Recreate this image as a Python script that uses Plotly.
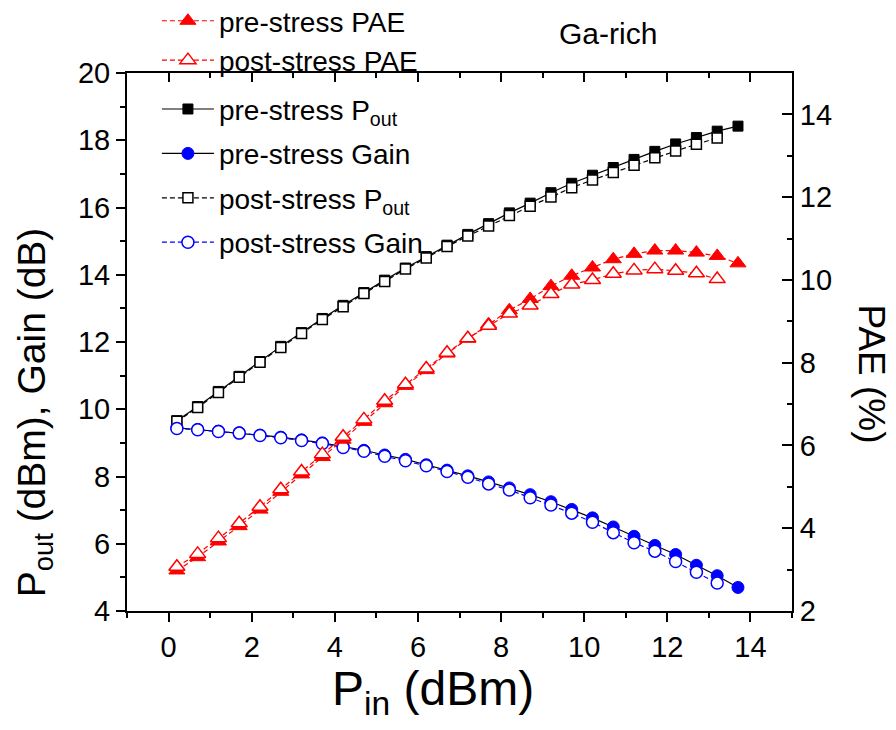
import plotly.graph_objects as go

# ---------------- data ----------------
pin_pre = [0.2, 0.7, 1.2, 1.7, 2.2, 2.7, 3.2, 3.7, 4.2, 4.7, 5.2, 5.7, 6.2, 6.7,
           7.2, 7.7, 8.2, 8.7, 9.2, 9.7, 10.2, 10.7, 11.2, 11.7, 12.2, 12.7, 13.2, 13.7]
pin_post = pin_pre[:-1]

pout_pre = [9.66, 10.08, 10.53, 10.98, 11.42, 11.87, 12.28, 12.70, 13.09, 13.47, 13.84,
            14.20, 14.54, 14.88, 15.20, 15.52, 15.84, 16.13, 16.44, 16.72, 16.96, 17.19,
            17.43, 17.67, 17.89, 18.08, 18.27, 18.42]
pout_post = [9.64, 10.05, 10.50, 10.95, 11.40, 11.84, 12.25, 12.67, 13.05, 13.44, 13.80,
             14.17, 14.50, 14.84, 15.15, 15.45, 15.76, 16.04, 16.31, 16.59, 16.82, 17.04,
             17.26, 17.48, 17.68, 17.88, 18.07]

gain_pre = [9.45, 9.40, 9.35, 9.30, 9.23, 9.17, 9.09, 9.00, 8.89, 8.78, 8.64, 8.51, 8.35,
            8.19, 8.02, 7.84, 7.66, 7.46, 7.25, 7.02, 6.77, 6.50, 6.22, 5.95, 5.68, 5.36,
            5.05, 4.70]
gain_post = [9.43, 9.39, 9.34, 9.29, 9.22, 9.15, 9.07, 8.98, 8.86, 8.75, 8.60, 8.47, 8.32,
             8.15, 7.98, 7.78, 7.60, 7.37, 7.15, 6.91, 6.64, 6.33, 6.03, 5.78, 5.47, 5.15,
             4.83]

pae_pre = [2.98, 3.30, 3.68, 4.05, 4.45, 4.88, 5.30, 5.72, 6.14, 6.57, 7.02, 7.44, 7.82,
           8.22, 8.58, 8.93, 9.27, 9.54, 9.85, 10.10, 10.30, 10.50, 10.63, 10.71, 10.71,
           10.66, 10.58, 10.40]
pae_post = [3.07, 3.38, 3.76, 4.12, 4.52, 4.94, 5.37, 5.79, 6.21, 6.63, 7.08, 7.48, 7.86,
            8.24, 8.59, 8.89, 9.19, 9.38, 9.66, 9.89, 10.00, 10.15, 10.23, 10.26, 10.22,
            10.16, 10.02]

x_ticks = [0, 2, 4, 6, 8, 10, 12, 14]
yl_ticks = [4, 6, 8, 10, 12, 14, 16, 18, 20]
yr_ticks = [2, 4, 6, 8, 10, 12, 14]

FONT = "Liberation Sans, Arial, sans-serif"
DASH = "5px,3px"

fig = go.Figure()

# left-axis traces (legend2, inside plot)
fig.add_trace(go.Scatter(
    x=pin_pre, y=pout_pre, mode="lines+markers", name="pre-stress P<sub>out</sub>",
    line=dict(color="black", width=1.2), legendgroup="a",
    marker=dict(symbol="square", size=10, color="black", line=dict(color="black", width=1)),
    legend="legend2"))
fig.add_trace(go.Scatter(
    x=pin_pre, y=gain_pre, mode="lines+markers", name="pre-stress Gain",
    line=dict(color="black", width=1.2), legendgroup="b",
    marker=dict(symbol="circle", size=12, color="blue", line=dict(color="blue", width=1)),
    legend="legend2"))
fig.add_trace(go.Scatter(
    x=pin_post, y=pout_post, mode="lines+markers", name="post-stress P<sub>out</sub>",
    line=dict(color="black", width=1.2, dash=DASH), legendgroup="c",
    marker=dict(symbol="square", size=10, color="white", line=dict(color="black", width=1.5)),
    legend="legend2"))
fig.add_trace(go.Scatter(
    x=pin_post, y=gain_post, mode="lines+markers", name="post-stress Gain",
    line=dict(color="blue", width=1.2, dash=DASH), legendgroup="d",
    marker=dict(symbol="circle", size=12, color="white", line=dict(color="blue", width=1.5)),
    legend="legend2"))

# right-axis traces (legend, above plot)
fig.add_trace(go.Scatter(
    x=pin_pre, y=pae_pre, mode="lines+markers", name="pre-stress PAE",
    xaxis="x2", yaxis="y2",
    line=dict(color="red", width=1.2, dash=DASH),
    marker=dict(symbol="triangle-up", size=14, color="red", line=dict(color="red", width=1)),
    legend="legend"))
fig.add_trace(go.Scatter(
    x=pin_post, y=pae_post, mode="lines+markers", name="post-stress PAE",
    xaxis="x2", yaxis="y2",
    line=dict(color="red", width=1.2, dash=DASH),
    marker=dict(symbol="triangle-up", size=14, color="white", line=dict(color="red", width=1.5)),
    legend="legend"))

axis_common = dict(showline=True, linecolor="black", linewidth=2, showgrid=False,
                   zeroline=False, tickcolor="black", tickwidth=2,
                   tickfont=dict(family=FONT, size=29, color="black"))

# the page body adds an 8px offset, so the figure is 8px smaller than the window
fig.update_layout(
    width=888, height=722,
    paper_bgcolor="white", plot_bgcolor="white",
    margin=dict(l=119, r=104, t=65, b=119, autoexpand=False),
    font=dict(family=FONT, color="black"),
    xaxis=dict(range=[-1, 15], tickvals=x_ticks, ticks="outside", ticklen=9,
               minor=dict(dtick=1, tick0=0, ticks="outside", ticklen=5, tickwidth=2, tickcolor="black"),
               **axis_common),
    xaxis2=dict(range=[-1, 15], overlaying="x", side="top", tickvals=x_ticks, ticks="inside",
                ticklen=9, showticklabels=False,
                minor=dict(dtick=1, tick0=0, ticks="inside", ticklen=5, tickwidth=2, tickcolor="black"),
                **axis_common),
    yaxis=dict(range=[4, 20], tickvals=yl_ticks, ticks="outside", ticklen=9,
               minor=dict(dtick=1, tick0=0, ticks="outside", ticklen=5, tickwidth=2, tickcolor="black"),
               **axis_common),
    yaxis2=dict(range=[2, 15], overlaying="y", side="right", tickvals=yr_ticks, ticks="inside",
                ticklen=10, anchor="x2",
                minor=dict(dtick=1, tick0=0, ticks="inside", ticklen=5, tickwidth=2, tickcolor="black"),
                **axis_common),
    legend=dict(x=0.045, y=1.143, xanchor="left", yanchor="top", bgcolor="rgba(0,0,0,0)",
                font=dict(family=FONT, size=28, color="black"), tracegroupgap=0,
                itemwidth=52),
    legend2=dict(x=0.045, y=0.979, xanchor="left", yanchor="top", bgcolor="rgba(0,0,0,0)",
                 font=dict(family=FONT, size=28, color="black"), tracegroupgap=5,
                 itemwidth=52),
    annotations=[
        dict(text="P<sub>out</sub> (dBm), Gain (dB)", xref="paper", yref="paper",
             x=-0.138, y=0.37, textangle=-90, showarrow=False, xanchor="center", yanchor="middle",
             font=dict(family=FONT, size=39, color="black")),
        dict(text="P<sub>in</sub> (dBm)", xref="paper", yref="paper",
             x=0.46, y=-0.15, showarrow=False, xanchor="center", yanchor="middle",
             font=dict(family=FONT, size=48, color="black")),
        dict(text="PAE (%)", xref="paper", yref="paper",
             x=1.12, y=0.44, textangle=90, showarrow=False, xanchor="center", yanchor="middle",
             font=dict(family=FONT, size=37, color="black")),
        dict(text="Ga-rich", xref="paper", yref="paper",
             x=0.723, y=1.074, showarrow=False, xanchor="center", yanchor="middle",
             font=dict(family=FONT, size=30, color="black")),
    ],
)

fig.write_html("out.html")
